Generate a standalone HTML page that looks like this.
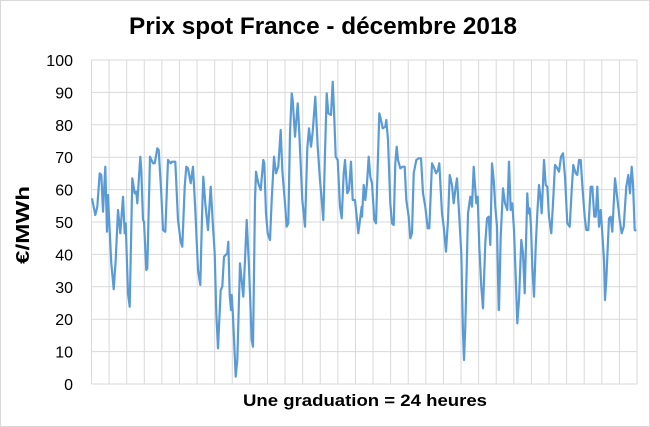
<!DOCTYPE html>
<html><head><meta charset="utf-8"><style>
body{margin:0;background:#fff}
svg{display:block}
text{font-family:"Liberation Sans",sans-serif}
</style></head><body>
<svg id="s" width="650" height="427" xmlns="http://www.w3.org/2000/svg">
<rect x="0.5" y="0.5" width="649" height="426" fill="#fff" stroke="#d9d9d9"/>
<text x="323" y="34" font-size="24" font-weight="bold" text-anchor="middle" fill="#000" textLength="388" lengthAdjust="spacingAndGlyphs">Prix spot France - décembre 2018</text>
<g id="grid" stroke="#d9d9d9" stroke-width="1"></g>
<g id="yl" font-size="16" text-anchor="end" fill="#000"></g>
<text transform="translate(29,225) rotate(-90)" font-size="18" font-weight="bold" text-anchor="middle" textLength="78" lengthAdjust="spacingAndGlyphs">€/MWh</text>
<text x="365" y="406" font-size="17" font-weight="bold" text-anchor="middle" textLength="244" lengthAdjust="spacingAndGlyphs">Une graduation = 24 heures</text>
<polyline id="pl" fill="none" stroke="#5b9bd5" stroke-width="2.2" stroke-linejoin="round"/>
</svg>
<script>
var ns="http://www.w3.org/2000/svg",g=document.getElementById('grid'),yl=document.getElementById('yl');
var L=91.5,R=637,T=60,B=384;
for(var i=0;i<=10;i++){var y=T+(B-T)*i/10;var l=document.createElementNS(ns,'line');l.setAttribute('x1',L);l.setAttribute('x2',R);l.setAttribute('y1',y);l.setAttribute('y2',y);g.appendChild(l);
var t=document.createElementNS(ns,'text');t.setAttribute('x',73);t.setAttribute('y',y+6);t.textContent=100-10*i;yl.appendChild(t);}
for(var i=0;i<=31;i++){var x=L+(R-L)*i/31;var l=document.createElementNS(ns,'line');l.setAttribute('x1',x);l.setAttribute('x2',x);l.setAttribute('y1',T);l.setAttribute('y2',B);g.appendChild(l);}
var segs=[[88,[12,415,22,465,28,440,35,340,40,345,45,455,52,320,57,515,60,405,63,470,70,610,77,688,83,600,90,450,97,520,105,410,110,520,113,490,120,700,125,740,133,355,140,400,145,395,148,430,157,290,160,330,165,480,168,485,175,630,178,625,186,290,195,310,200,310,208,265,212,270,220,400,225,510,232,515,240,300,248,310,252,305,262,305,270,480,278,545,283,560,290,380,295,320,300,325,308,370,315,320,322,450,330,630,337,675,342,470,346,350,352,430,360,510,368,380,375,500,380,580,385,760,390,865,398,690,403,680,408,590,418,580]],
[225,[10,545,14,705,18,750,20,705,24,770,32,950,37,900,45,610,55,710,60,600,65,480,72,620,80,840,84,860,90,420,93,335,100,370,107,390,115,300,118,310,123,460,128,520,135,540,140,420,147,290,153,340,160,320,167,210,172,330,180,430,185,500,190,490,195,220,200,100,203,120,210,230,218,130,222,200,232,420,240,500,247,265,252,205,258,260,263,215,271,110,278,260,285,360,290,420,295,480,300,280,305,100,310,160,318,165,323,65,327,150,332,290,338,300,345,440,350,475,356,340,360,300,367,400,372,390,378,305,383,420,390,420,395,470,400,520,410,440]],
[362,[0,470,5,375,10,420,15,370,20,290,25,350,30,370,37,480,42,490,52,160,57,180,62,205,70,200,73,180,78,240,85,430,90,490,95,495,100,310,104,260,108,300,115,325,122,320,128,320,133,420,140,470,145,535,150,520,155,340,163,300,170,295,177,295,183,400,190,440,197,505,202,505,210,310,217,325,222,340,228,330,232,310,240,460,245,500,252,575,258,480,263,345,270,375,275,430,280,390,285,355,290,440,298,580,303,820,306,900,310,800,318,460,325,410,330,440,335,320,340,390,343,430,347,410,352,560,358,680,363,745,370,550,375,475,380,470,385,555,390,310,395,360,400,440,405,500,410,750]],
[499,[0,750,5,530,12,385,18,430,25,450,30,305,35,450,40,430,45,510,50,650,55,790,60,720,67,540,72,580,77,700,85,400,88,460,92,445,96,500,100,620,105,710,110,560,115,460,120,375,125,420,128,460,135,300,140,375,145,380,150,470,157,520,162,430,168,315,175,325,180,335,186,290,192,280,198,350,205,490,212,500,218,390,223,315,230,340,235,345,240,300,245,300,250,375,257,470,262,510,268,510,275,380,280,380,286,470,290,470,295,380,300,500,305,450,310,520,315,600,318,720,322,660,330,475,335,470,340,515,348,355,353,400,358,440,362,480,368,520,374,500,382,380,388,345,393,400,398,320,402,370,407,510,412,512]]];
var pts=[];segs.forEach(function(s){var a=s[1];for(var i=0;i<a.length;i+=2){pts.push((s[0]+a[i]/3).toFixed(1)+','+(60+a[i+1]/3).toFixed(1));}});
document.getElementById('pl').setAttribute('points',pts.join(' '));
</script>
</body></html>
